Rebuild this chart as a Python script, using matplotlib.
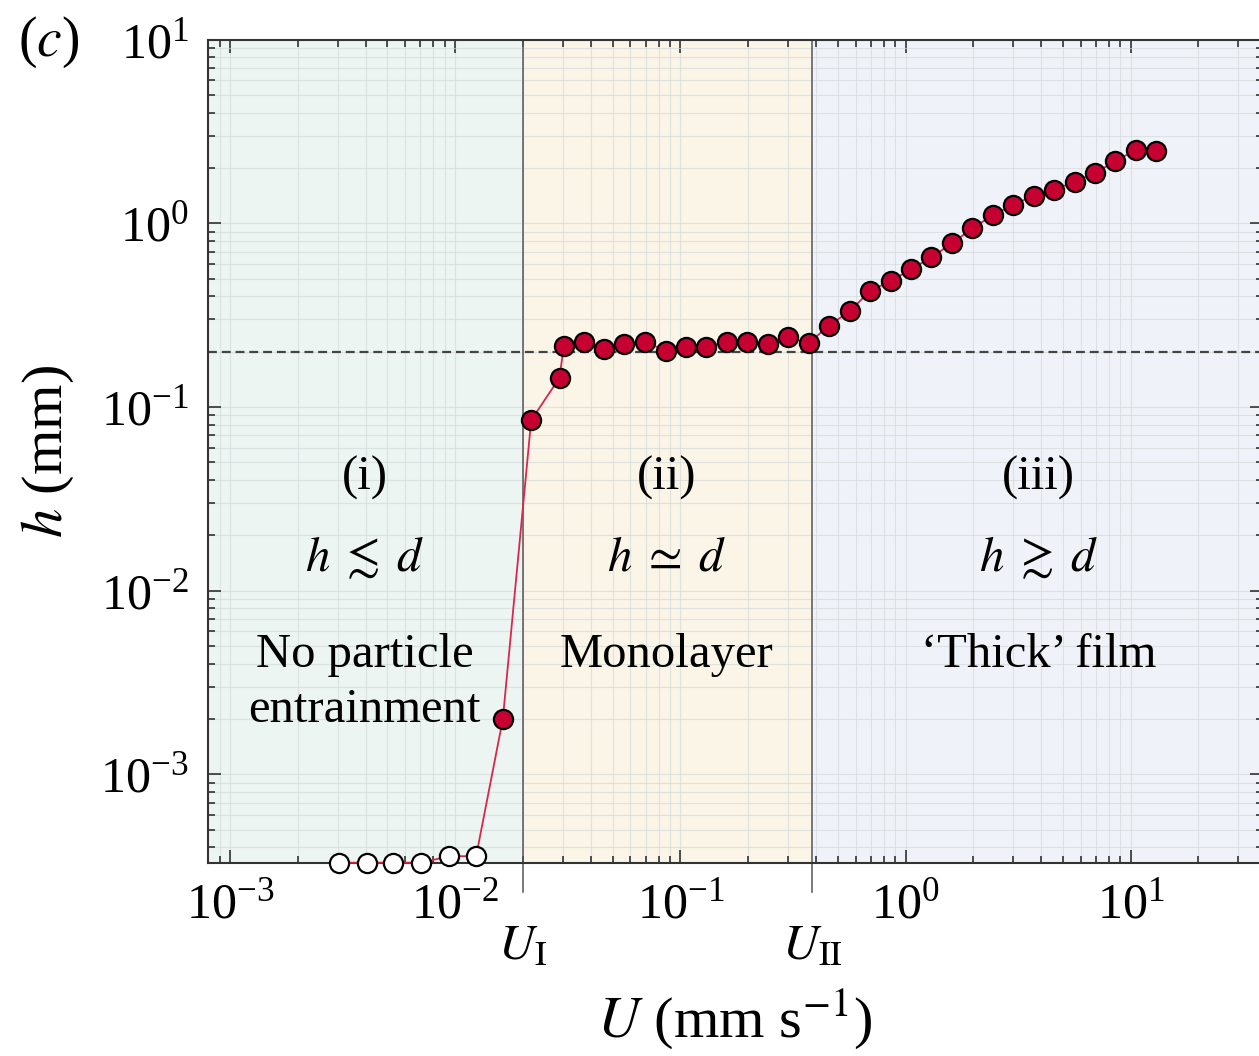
import matplotlib
matplotlib.use("Agg")
import matplotlib.pyplot as plt
import matplotlib.transforms as mtransforms
from matplotlib.ticker import LogLocator, NullFormatter

plt.rcParams["font.family"] = ["Liberation Serif", "DejaVu Serif"]
plt.rcParams["mathtext.fontset"] = "stix"

# Withdrawal speed U (mm/s) and entrained film thickness h (mm)
# Regime (i): no particles entrained, h = 0 drawn on the lower axis limit
U_none = [0.00304, 0.00404, 0.00530, 0.00703, 0.00942, 0.01238]
h_none = [3.3e-4, 3.3e-4, 3.3e-4, 3.3e-4, 3.58e-4, 3.58e-4]

# Measured films
U_meas = [0.01626, 0.02174, 0.02904, 0.03034, 0.03723, 0.04568, 0.05644,
          0.06976, 0.08587, 0.1061, 0.1302, 0.1608, 0.1980, 0.2444, 0.3000,
          0.3707, 0.4564, 0.5639, 0.6969, 0.8577, 1.060, 1.301, 1.606,
          1.978, 2.442, 2.997, 3.704, 4.545, 5.633, 6.913, 8.544, 10.52,
          12.99]
h_meas = [0.00199, 0.0847, 0.144, 0.2152, 0.2245, 0.2064, 0.2198, 0.2262,
          0.2021, 0.2109, 0.2125, 0.2262, 0.2245, 0.2198, 0.2400, 0.2218,
          0.2773, 0.3313, 0.4290, 0.4843, 0.5630, 0.6521, 0.7772, 0.938,
          1.108, 1.256, 1.412, 1.516, 1.683, 1.870, 2.182, 2.504, 2.482]

U_I = 0.02      # onset of particle entrainment
U_II = 0.385    # monolayer -> thick film transition
d = 0.2         # particle diameter (mm)

x_lim = (8e-4, 38.5)
y_lim = (3.3e-4, 10.0)

regime_colors = ["#ECF5F1", "#FBF5E8", "#EFF2F8"]
regime_labels = [
    ("(i)", r"$h\;\lesssim\;d$", "No particle\nentrainment", 0.00395),
    ("(ii)", r"$h\;\simeq\;d$", "Monolayer", 0.0868),
    ("(iii)", r"$h\;\gtrsim\;d$", "\u2018Thick\u2019 film", 3.90),
]

W, H, DPI = 1259, 1056, 100
fig = plt.figure(figsize=(W / DPI, H / DPI), dpi=DPI)
left_px, right_px, top_px, bot_px = 208.3, 1262.5, 39.6, 862.7
ax = fig.add_axes([left_px / W, 1 - bot_px / H,
                   (right_px - left_px) / W, (bot_px - top_px) / H])
ax.set_xscale("log")
ax.set_yscale("log")
ax.set_xlim(*x_lim)
ax.set_ylim(*y_lim)

# Shaded regimes
bounds = [x_lim[0], U_I, U_II, x_lim[1]]
for i, c in enumerate(regime_colors):
    ax.axvspan(bounds[i], bounds[i + 1], color=c, lw=0, zorder=0)

ax.set_axisbelow(True)
ax.xaxis.set_major_locator(LogLocator(base=10, numticks=20))
ax.yaxis.set_major_locator(LogLocator(base=10, numticks=20))
ax.xaxis.set_minor_locator(LogLocator(base=10, subs=range(2, 10), numticks=50))
ax.yaxis.set_minor_locator(LogLocator(base=10, subs=range(2, 10), numticks=50))
ax.xaxis.set_minor_formatter(NullFormatter())
ax.yaxis.set_minor_formatter(NullFormatter())
ax.grid(True, which="both", color="#d3d8da", lw=0.8, alpha=0.65)

# Regime boundaries, extended below the axis
trans = mtransforms.blended_transform_factory(ax.transData, ax.transAxes)
for xb, lab in [(U_I, r"$U_{\mathrm{I}}$"), (U_II, r"$U_{\mathrm{II}}$")]:
    ax.plot([xb, xb], [-0.0356, 1.0], transform=trans, color="#555555",
            lw=1.1, clip_on=False, zorder=2)
    ax.text(xb, -0.102, lab, transform=trans, ha="center", va="center",
            fontsize=36)

# Particle diameter reference
ax.axhline(d, color="#444444", lw=1.6, dashes=(4, 2.2), zorder=2)

# Data
U_all = U_none + U_meas
h_all = h_none + h_meas
ax.plot(U_all, h_all, color="#D8264E", lw=1.3, zorder=3, clip_on=False)
ax.plot(U_none, h_none, "o", ms=13.8, mfc="white", mec="black", mew=1.6,
        zorder=4, clip_on=False)
ax.plot(U_meas, h_meas, "o", ms=13.8, mfc="#C60030", mec="black", mew=1.6,
        zorder=4, clip_on=False)

# Regime annotations
for num, rel, name, xc in regime_labels:
    ax.text(xc, 0.0409, num, ha="center", va="center", fontsize=35)
    ax.text(xc, 0.0150, rel, ha="center", va="center", fontsize=35)
    if "\n" in name:
        l1, l2 = name.split("\n")
        ax.text(xc, 0.00445, l1, ha="center", va="center", fontsize=35)
        ax.text(xc, 0.00223, l2, ha="center", va="center", fontsize=35)
    else:
        ax.text(xc, 0.00445, name, ha="center", va="center", fontsize=35)

# Axes styling
for sp in ax.spines.values():
    sp.set_color("#333333")
    sp.set_linewidth(1.5)
ax.tick_params(which="both", direction="in", top=True, right=True,
               color="#222222", width=1.1)
ax.tick_params(which="major", length=9.4, labelsize=36)
ax.tick_params(which="minor", length=5)
ax.tick_params(axis="y", which="major", pad=14)
ax.tick_params(axis="x", which="major", pad=14)

fig.text(735 / W, 1 - 1020 / H, r"$U$ (mm s$^{-1}$)", ha="center",
         va="center", fontsize=42)
fig.text(48 / W, 1 - 452 / H, r"$h$ (mm)", ha="center", va="center",
         rotation=90, fontsize=42)
fig.text(49 / W, 1 - 42 / H, r"($c$)", ha="center", va="center",
         fontsize=40)

fig.savefig("out.png", dpi=DPI)
